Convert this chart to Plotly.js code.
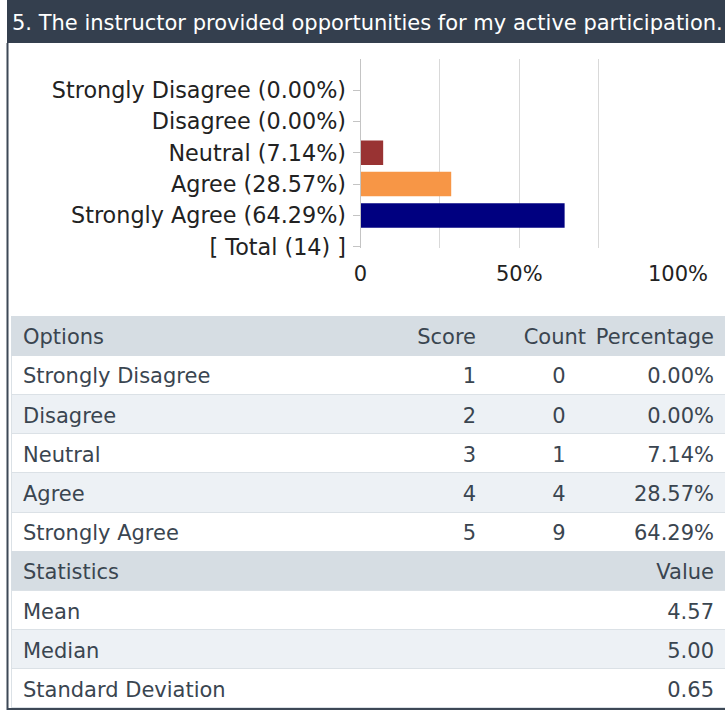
<!DOCTYPE html>
<html><head><meta charset="utf-8">
<script src="https://cdn.plot.ly/plotly-3.0.1.min.js"></script>
<style>html,body{margin:0;padding:0;background:#fff}#chart{width:725px;height:710px}</style>
</head><body><div id="chart"></div>
<script>
// ---- data ----
const questionTitle = "5. The instructor provided opportunities for my active participation.";
const options = ["Strongly Disagree", "Disagree", "Neutral", "Agree", "Strongly Agree"];
const scores = [1, 2, 3, 4, 5];
const counts = [0, 0, 1, 4, 9];
const percentages = [0.00, 0.00, 7.14, 28.57, 64.29];
const barColors = ["#4f81bd", "#c0504d", "#993333", "#f79646", "#000080"];
const totalCount = 14;
const statNames = ["Mean", "Median", "Standard Deviation"];
const statValues = [4.57, 5.00, 0.65];
const headerLabels = ["Options", "Score", "Count", "Percentage"];
const statHeader = ["Statistics", "Value"];
const xTickVals = [0, 50, 100];
const xTickText = ["0", "50%", "100%"];
const xMinorVals = [25, 75];

// ---- styling ----
const W = 725, H = 710;
const FONT = "DejaVu Sans";
const textCol = "#3a4550";
const hdrFill = "#d6dde3", altFill = "#edf1f5", white = "#ffffff", clear = "rgba(0,0,0,0)";
const sepCol = "#dbe1e6";
const gridCol = "#d9d9d9", axisCol = "#c4c4c4";
const rowH = 39.2;
const tableTop = 316;
const textShift = 4.5;
const tblFont = { family: FONT, size: 21, color: textCol };

const pctStr = p => p.toFixed(2) + "%";
const yLabels = options.map((o, i) => o + " (" + pctStr(percentages[i]) + ")")
  .concat(["[ Total (" + totalCount + ") ]"]);

const bar = {
  type: "bar", orientation: "h",
  x: percentages, y: yLabels.slice(0, options.length),
  width: 0.78,
  marker: { color: barColors, line: { width: 0 } },
  hoverinfo: "skip", showlegend: false, xaxis: "x", yaxis: "y"
};

// ---- table: background bands ----
const rowFills = [white, altFill, white, altFill, white, hdrFill, white, altFill, white];
const rowLines = rowFills.map(c => (c === hdrFill ? hdrFill : sepCol));
const fillTable = {
  type: "table",
  domain: { x: [11 / W, 1], y: [0, 1 - tableTop / H] },
  columnwidth: [1],
  header: { values: [[""]], fill: { color: hdrFill }, line: { color: hdrFill, width: 1 }, height: rowH, font: tblFont },
  cells: { values: [rowFills.map(() => "")], fill: { color: [rowFills] }, line: { color: [rowLines], width: 1 }, height: rowH, font: tblFont }
};

// ---- table: text layers ----
const yTop = k => 1 - (tableTop + k * rowH + textShift) / H;
const hdrCols = [385, 84, 110, 128];
const bodyCols = [385, 84, 150, 88];
const bodyAlign = ["left", "right", "center", "right"];
const txtX = [15 / W, 722 / W];

const headText = {
  type: "table",
  domain: { x: txtX, y: [yTop(1) - 2 / H, yTop(0)] },
  columnwidth: hdrCols,
  header: {
    values: headerLabels.map(h => [h]),
    align: ["left", "right", "right", "right"],
    fill: { color: clear }, line: { color: clear, width: 0 },
    font: tblFont, height: rowH
  },
  cells: { values: [] }
};

const optRows = options.map((o, i) => [o, String(scores[i]), String(counts[i]), pctStr(percentages[i])]);
const statRows = [[statHeader[0], "", "", statHeader[1]]]
  .concat(statNames.map((s, i) => [s, "", "", statValues[i].toFixed(2)]));
const allRows = optRows.concat(statRows);          // 9 body rows
const mainRows = allRows.slice(1, allRows.length - 1);
const lastRow = allRows[allRows.length - 1];
const colsOf = rows => [0, 1, 2, 3].map(c => rows.map(r => r[c]));

const bodyText = {
  type: "table",
  domain: { x: txtX, y: [yTop(9) - 4 / H, yTop(1)] },
  columnwidth: bodyCols,
  header: {
    values: allRows[0].map(v => [v]),
    align: bodyAlign, fill: { color: clear }, line: { color: clear, width: 0 },
    font: tblFont, height: rowH
  },
  cells: {
    values: colsOf(mainRows),
    align: bodyAlign, fill: { color: clear }, line: { color: clear, width: 0 },
    font: tblFont, height: rowH
  }
};

const lastText = {
  type: "table",
  domain: { x: txtX, y: [0, yTop(9)] },
  columnwidth: bodyCols,
  header: {
    values: lastRow.map(v => [v]),
    align: bodyAlign, fill: { color: clear }, line: { color: clear, width: 0 },
    font: tblFont, height: 30
  },
  cells: { values: [] }
};

const layout = {
  width: W, height: H,
  margin: { l: 0, r: 0, t: 0, b: 0, pad: 0 },
  paper_bgcolor: "#ffffff", plot_bgcolor: "#ffffff",
  showlegend: false,
  title: {
    text: questionTitle,
    font: { family: FONT, size: 21, color: "#ffffff" },
    x: 12 / W, xanchor: "left", xref: "paper",
    y: 1 - 22.5 / H, yanchor: "middle", yref: "container"
  },
  xaxis: {
    domain: [360.5 / W, 678 / W],
    range: [0, 100], fixedrange: true,
    tickmode: "array", tickvals: xTickVals, ticktext: xTickText,
    showgrid: true, gridcolor: gridCol, gridwidth: 1,
    minor: { tickmode: "array", tickvals: xMinorVals, showgrid: true, gridcolor: gridCol, ticks: "" },
    ticks: "", showline: false, zeroline: false,
    tickfont: { family: FONT, size: 21, color: "#222222" },
    ticklabelstandoff: 11
  },
  yaxis: {
    domain: [1 - 248 / H, 1 - 59.3 / H],
    type: "category", categoryorder: "array", categoryarray: yLabels,
    range: [5.04, -0.98], fixedrange: true,
    ticks: "outside", ticklen: 7, tickcolor: axisCol, tickwidth: 1,
    showline: true, linecolor: axisCol, linewidth: 1,
    showgrid: false, zeroline: false,
    tickfont: { family: FONT, size: 22.3, color: "#222222" },
    ticklabelstandoff: 2
  },
  shapes: [
    { type: "rect", xref: "paper", yref: "paper", x0: 7 / W, x1: 1, y0: 1 - 43 / H, y1: 1,
      fillcolor: "#343f4e", line: { width: 0 }, layer: "below" },
    { type: "line", xref: "paper", yref: "paper", x0: 7.5 / W, x1: 7.5 / W, y0: 0, y1: 1 - 43 / H,
      line: { color: "#3d4856", width: 2 } },
    { type: "line", xref: "paper", yref: "paper", x0: 7 / W, x1: 1, y0: 1 - 709 / H, y1: 1 - 709 / H,
      line: { color: "#3d4856", width: 2 } }
  ]
};

Plotly.newPlot("chart", [bar, fillTable, headText, bodyText, lastText], layout, { staticPlot: true, displayModeBar: false });
</script>
</body></html>
